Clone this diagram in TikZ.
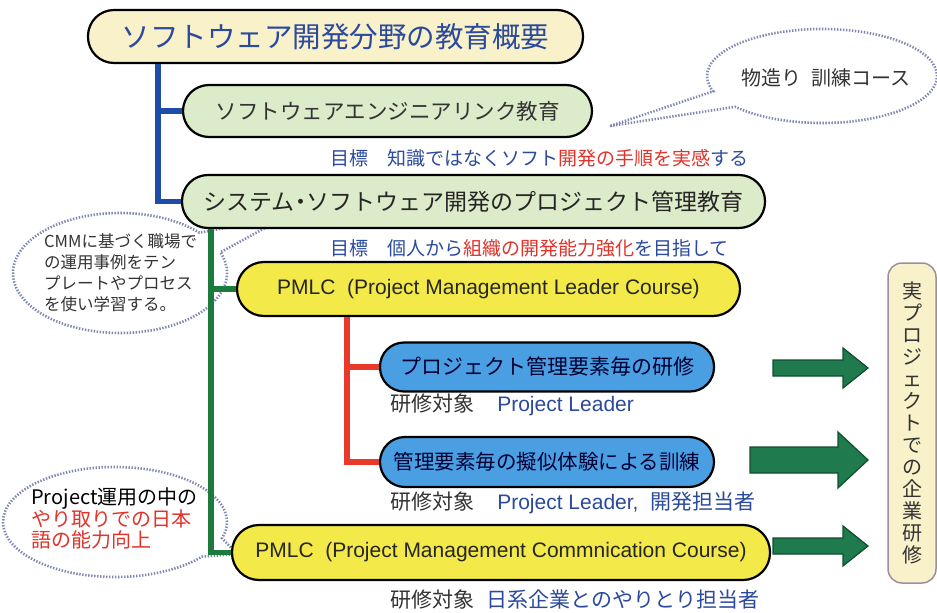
\documentclass[tikz,border=0pt]{standalone}
\usepackage{fontspec}
\setmainfont{Noto Sans CJK JP}
\newfontfamily\ar{Liberation Sans}
\usetikzlibrary{shapes.callouts,shapes.geometric}
\definecolor{cream}{HTML}{F8F1C9}
\definecolor{lgreen}{HTML}{DCEBC9}
\definecolor{yel}{HTML}{F3E948}
\definecolor{bluebox}{HTML}{4A9FE2}
\definecolor{tblue}{HTML}{2B4A9E}
\definecolor{tred}{HTML}{E2332B}
\definecolor{bluec}{HTML}{1D4DA6}
\definecolor{greenc}{HTML}{1B7A3C}
\definecolor{redc}{HTML}{E8392B}
\definecolor{arrowg}{HTML}{1F7A4D}
\definecolor{arrowb}{HTML}{0E4F2C}
\definecolor{dotc}{HTML}{7F87B2}
\definecolor{rbox}{HTML}{9C90A0}
\definecolor{txt}{HTML}{333333}
\begin{document}
\begin{tikzpicture}[x=1pt,y=-1pt,
  pill/.style={draw=black, line width=2.2pt, inner sep=0pt},
  conn/.style={line width=5.5pt},
  blockarrow/.style={fill=arrowg, draw=arrowb, line width=1.2pt, line join=miter},
  bubble/.style={ellipse callout, draw=dotc, line width=2.6pt, dash pattern=on 1.4pt off 1.6pt, callout pointer arc=22, inner sep=0pt},
  goal/.style={anchor=west, inner sep=0pt, font=\fontsize{19}{21}\selectfont},
  target/.style={anchor=west, inner sep=0pt, font=\fontsize{21}{23}\selectfont, text=txt}]
\useasboundingbox (0,0) rectangle (937,613);
\fill[white] (0,0) rectangle (937,613);

% callouts
\node[bubble, minimum width=230pt, minimum height=94pt, callout absolute pointer={(610,126)}] (c1) at (822,76) {};
\node[inner sep=0pt, font=\fontsize{20}{22}\selectfont, text=txt] (c1t) at (826,78) {物造り\hspace{0.5em}訓練コース};
\node[bubble, minimum width=214pt, minimum height=120pt, callout absolute pointer={(285,217)}] (c3) at (120,273) {};
\node[anchor=west, align=left, inner sep=0pt, font=\fontsize{16.5}{21}\selectfont, text=txt] (c3t) at (44,273) {CMMに基づく職場で\\の運用事例をテン\\プレートやプロセス\\を使い学習する。};
\node[bubble, minimum width=224pt, minimum height=110pt, callout absolute pointer={(237,554)}] (c4) at (115,522) {};
\node[anchor=west, align=left, inner sep=0pt, font=\fontsize{20}{20.5}\selectfont, text=black] (c4t) at (31,518) {Project運用の中の\\\textcolor{tred}{やり取りでの日本}\\\textcolor{tred}{語の能力向上}};

% boxes
\node[pill, fill=cream, minimum width=495pt, minimum height=53pt, rounded corners=26pt, text=tblue, font=\fontsize{28.5}{30}\selectfont] (title) at (335.5,36.5) {ソフトウェア開発分野の教育概要};
\node[pill, fill=lgreen, minimum width=409pt, minimum height=52pt, rounded corners=26pt, text=txt, font=\fontsize{21.5}{24}\selectfont] (se) at (387.5,111) {ソフトウェアエンジニアリンク教育};
\node[pill, fill=lgreen, minimum width=583pt, minimum height=53pt, rounded corners=26pt, text=black!85, font=\fontsize{23}{26}\selectfont] (sys) at (473.5,201.5) {システム{\kern-0.25em}・{\kern-0.25em}ソフトウェア開発のプロジェクト管理教育};
\node[pill, fill=yel, minimum width=503pt, minimum height=54pt, rounded corners=27pt, text=black!85, font=\ar\fontsize{21}{24}\selectfont] (p1) at (488.5,289) {PMLC\ \ (Project Management Leader Course)};
\node[pill, fill=bluebox, minimum width=334pt, minimum height=49pt, rounded corners=24pt, text=black!80!blue, font=\fontsize{21}{23}\selectfont] (b1) at (547,367) {プロジェクト管理要素毎の研修};
\node[pill, fill=bluebox, minimum width=334pt, minimum height=50pt, rounded corners=25pt, text=black!80!blue, font=\fontsize{20.5}{22}\selectfont] (b2) at (547,462) {管理要素毎の擬似体験による訓練};
\node[pill, fill=yel, minimum width=538pt, minimum height=55pt, rounded corners=27pt, text=black!85, font=\ar\fontsize{21}{24}\selectfont] (p2) at (501,552.5) {PMLC\ \ (Project Management Commnication Course)};
\node[draw=rbox, line width=1.5pt, fill=cream, rounded corners=14pt, minimum width=48pt, minimum height=320pt, inner sep=0pt, align=center, text=txt, font=\fontsize{20}{22}\selectfont] (real) at (912,423) {実\\プ\\ロ\\ジ\\ェ\\ク\\ト\\で\\の\\企\\業\\研\\修};

% texts
\node[goal] (g1) at (330,158) {\textcolor{tblue}{目標　知識ではなくソフト}\textcolor{tred}{開発の手順を実感}\textcolor{tblue}{する}};
\node[goal] (g2) at (330,248) {\textcolor{tblue}{目標　個人から}\textcolor{tred}{組織の開発能力強化}\textcolor{tblue}{を目指して}};
\node[target] (t1) at (390,405) {研修対象\hspace{1.1em}{\color{tblue}\ar Project Leader}};
\node[target] (t2) at (390,503) {研修対象\hspace{1.1em}{\color{tblue}\ar Project Leader,\ \ }{\color{tblue}開発担当者}};
\node[target] (t3) at (390,600) {研修対象\hspace{0.6em}{\color{tblue}日系企業とのやりとり担当者}};

% connectors
\coordinate (bx) at (158,0);
\coordinate (gx) at (211,0);
\coordinate (rx) at (347,0);
\draw[conn, bluec] (title.south -| bx) |- (se.west);
\draw[conn, bluec] (title.south -| bx) |- (sys.west);
\draw[conn, greenc] (sys.south -| gx) |- (p1.west);
\draw[conn, greenc] (sys.south -| gx) |- (p2.west);
\draw[conn, redc] (p1.south -| rx) |- (b1.west);
\draw[conn, redc] (p1.south -| rx) |- (b2.west);

% block arrows
\filldraw[blockarrow] (773,360) -- (843,360) -- (843,348) -- (868,368) -- (843,388) -- (843,376) -- (773,376) -- cycle;
\filldraw[blockarrow] (750,447) -- (838,447) -- (838,432) -- (868,460) -- (838,488) -- (838,473) -- (750,473) -- cycle;
\filldraw[blockarrow] (773,538) -- (843,538) -- (843,526) -- (868,546) -- (843,566) -- (843,554) -- (773,554) -- cycle;
\end{tikzpicture}
\end{document}
